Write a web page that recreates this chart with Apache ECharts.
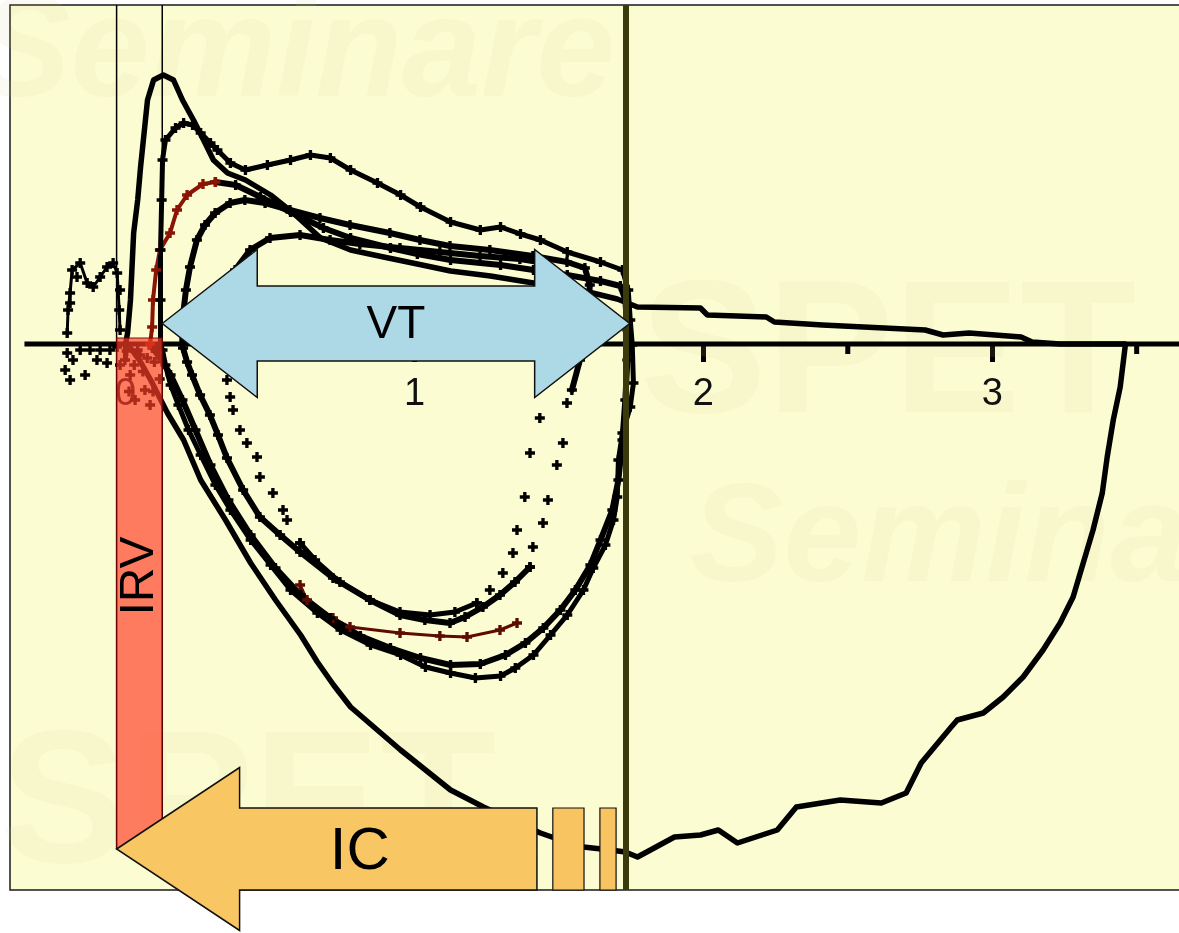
<!DOCTYPE html>
<html>
<head>
<meta charset="utf-8">
<title>Flow-volume loops</title>
<script src="https://cdn.jsdelivr.net/npm/echarts@6/dist/echarts.min.js"></script>
<style>
  html, body { margin: 0; padding: 0; background: #ffffff; }
  #chart { width: 1179px; height: 933px; }
</style>
</head>
<body>
<div id="chart"></div>
<script>
// ---- axes (volume in L, flow in L/s) ----
const VOLUME_RANGE = [-0.4, 3.65];
const FLOW_RANGE = [-10.92, 6.78];
const volumeTicks = [0, 1, 2, 3];
const volumeTickLabels = ['0', '1', '2', '3'];
const volumeMinorTicks = [0.5, 1.5, 2.5, 3.5];
const zeroLineSpan = [-0.35, 3.65];

// ---- lung volume markers ----
const EELV = 1.729;                       // end-expiratory lung volume
const irvSpan = [-0.031, 0.127];          // inspiratory reserve volume
const irvFlow = [0.12, -10.1];
const vtSpan = [0.127, 1.745];            // tidal volume
const vtFlow = 0.41;
const icTip = -0.031;                     // inspiratory capacity arrow
const icShaftEnd = 1.424;
const icStripes = [[1.479, 1.587], [1.642, 1.698]];
const icFlow = -10.1;
const irvLabelFlow = -4.64;
const icLabelVolume = 0.811;

// ---- maximal flow-volume loop ----
const maxLoop = [
  [0, 0], [0.007, 0.22], [0.017, 0.88], [0.028, 2.22], [0.042, 2.88], [0.052, 3.54],
  [0.076, 4.88], [0.097, 5.28], [0.131, 5.38], [0.166, 5.28], [0.197, 4.88], [0.235, 4.48],
  [0.27, 4.08], [0.304, 3.68], [0.353, 3.42], [0.415, 3.28], [0.502, 2.98], [0.588, 2.58],
  [0.675, 2.12], [0.779, 1.88], [0.893, 1.74], [1.01, 1.6], [1.125, 1.46], [1.263, 1.36],
  [1.412, 1.22], [1.574, 1.08], [1.702, 0.9], [1.772, 0.74], [1.99, 0.72], [2.014, 0.58],
  [2.218, 0.54], [2.246, 0.44], [2.412, 0.38], [2.768, 0.28], [2.83, 0.18], [2.92, 0.22],
  [3.1, 0.14], [3.138, 0.04], [3.235, 0], [3.46, 0],
  [3.46, -0.06], [3.443, -0.86], [3.419, -1.52], [3.398, -2.26], [3.381, -2.98], [3.349, -3.72],
  [3.315, -4.38], [3.28, -5.06], [3.235, -5.58], [3.176, -6.12], [3.107, -6.66], [3.038, -7.06],
  [2.969, -7.38], [2.879, -7.52], [2.858, -7.66], [2.754, -8.38], [2.702, -8.98], [2.616, -9.18],
  [2.474, -9.12], [2.322, -9.26], [2.256, -9.72], [2.118, -9.98], [2.052, -9.72], [1.99, -9.82],
  [1.9, -9.86], [1.817, -10.12], [1.772, -10.26], [1.73, -10.16], [1.678, -10.12], [1.585, -10.06],
  [1.505, -9.92], [1.436, -9.78], [1.239, -9.26], [1.125, -8.92], [0.952, -8.12], [0.779, -7.26],
  [0.72, -6.82], [0.664, -6.36], [0.606, -5.82], [0.519, -5.12], [0.433, -4.38], [0.346, -3.52],
  [0.26, -2.72], [0.201, -1.92], [0.145, -1.38], [0.087, -0.72], [0.052, -0.36], [0.017, -0.08]
];

// ---- second forced effort ----
const effort2 = [
  [0.121, 0], [0.121, 0.88], [0.121, 1.88], [0.125, 2.88], [0.128, 3.68], [0.138, 4.08],
  [0.173, 4.32], [0.201, 4.42], [0.232, 4.38], [0.26, 4.22], [0.294, 4.02], [0.318, 3.88],
  [0.363, 3.62], [0.415, 3.48], [0.491, 3.58], [0.571, 3.68], [0.64, 3.78], [0.709, 3.72],
  [0.779, 3.48], [0.872, 3.22], [0.952, 2.98], [1.021, 2.74], [1.125, 2.44], [1.228, 2.28],
  [1.298, 2.34], [1.367, 2.2], [1.436, 2.08], [1.529, 1.84], [1.644, 1.64], [1.72, 1.48],
  [1.74, 1.08], [1.747, 0.48], [1.754, -0.02], [1.758, -0.78], [1.747, -1.26], [1.72, -1.78],
  [1.706, -2.32], [1.702, -3.06], [1.689, -3.52], [1.661, -4.02], [1.619, -4.48], [1.585, -4.92],
  [1.529, -5.42], [1.471, -5.82], [1.412, -6.22], [1.349, -6.48], [1.298, -6.64], [1.211, -6.68],
  [1.125, -6.58], [1.038, -6.46], [0.952, -6.22], [0.848, -6.02], [0.744, -5.72], [0.664, -5.38],
  [0.571, -4.92], [0.502, -4.42], [0.433, -3.92], [0.363, -3.32], [0.311, -2.82], [0.26, -2.22],
  [0.218, -1.72], [0.183, -1.22], [0.156, -0.82], [0.138, -0.42], [0.128, -0.12]
];

// ---- tidal breath 1 (start of expiration in red) ----
const tidal1Rise = [
  [0.085, 0], [0.092, 0.34], [0.095, 0.88], [0.106, 1.48], [0.119, 1.88], [0.154, 2.22],
  [0.178, 2.68], [0.213, 2.98], [0.268, 3.2], [0.311, 3.24]
];
const tidal1 = [
  [0.311, 3.24], [0.381, 3.18], [0.467, 2.94], [0.571, 2.64], [0.685, 2.32], [0.779, 2.12],
  [0.917, 1.92], [1.01, 1.8], [1.125, 1.68], [1.298, 1.58], [1.412, 1.48], [1.529, 1.38],
  [1.644, 1.26], [1.713, 1.16], [1.73, 0.88], [1.737, 0.28], [1.737, -0.32], [1.73, -1.12],
  [1.72, -1.92], [1.706, -2.72], [1.685, -3.32], [1.644, -3.92], [1.609, -4.42], [1.557, -4.92],
  [1.505, -5.32], [1.446, -5.68], [1.384, -5.98], [1.315, -6.22], [1.228, -6.4], [1.125, -6.42],
  [1.021, -6.28], [0.917, -6.08], [0.813, -5.84], [0.709, -5.48], [0.606, -5.02], [0.519, -4.48],
  [0.433, -3.82], [0.356, -3.12], [0.294, -2.42], [0.242, -1.72], [0.197, -1.12], [0.156, -0.62],
  [0.121, -0.28], [0.093, -0.08]
];
const tidalRedLow = [
  [0.604, -4.82], [0.628, -5.12], [0.718, -5.48], [0.777, -5.66], [0.95, -5.78], [1.088, -5.84],
  [1.182, -5.86], [1.296, -5.72], [1.355, -5.58]
];

// ---- tidal breath 2 ----
const tidal2Exp = [
  [0.196, 0], [0.199, 0.58], [0.209, 1.08], [0.223, 1.54], [0.247, 2.08], [0.275, 2.38],
  [0.31, 2.62], [0.362, 2.82], [0.413, 2.88], [0.483, 2.82], [0.569, 2.68], [0.673, 2.52],
  [0.777, 2.38], [0.915, 2.22], [1.019, 2.08], [1.123, 1.96], [1.261, 1.88], [1.41, 1.76],
  [1.528, 1.64], [1.59, 1.52], [1.607, 1.18], [1.6, 0.48], [1.573, -0.32], [1.545, -0.92]
];
const tidal2InsSparse = [
  [1.528, -1.18], [1.514, -1.98], [1.493, -2.42], [1.462, -3.12], [1.445, -3.58], [1.41, -4.06],
  [1.4, -4.46]
];
const tidal2Ins = [
  [1.4, -4.46], [1.348, -4.76], [1.296, -5.02], [1.237, -5.26], [1.175, -5.46], [1.123, -5.58],
  [1.036, -5.52], [0.95, -5.42], [0.846, -5.12], [0.718, -4.68], [0.604, -4.16], [0.535, -3.82],
  [0.465, -3.46], [0.407, -2.92], [0.351, -2.28], [0.32, -1.82], [0.292, -1.42], [0.258, -1.02],
  [0.23, -0.62], [0.213, -0.36], [0.199, -0.08]
];

// ---- tidal breath 3 ----
const tidal3Exp = [
  [0.31, 0], [0.32, 0.48], [0.344, 0.98], [0.379, 1.48], [0.431, 1.88], [0.5, 2.12],
  [0.604, 2.18], [0.708, 2.08], [0.811, 2.0], [0.95, 1.92], [1.088, 1.84], [1.227, 1.76],
  [1.365, 1.7], [1.452, 1.62], [1.47, 1.18], [1.462, 0.28], [1.452, -0.72]
];
const tidal3InsRight = [
  [1.434, -1.48], [1.4, -2.18], [1.382, -3.06], [1.355, -3.72], [1.341, -4.18], [1.306, -4.58],
  [1.261, -4.92], [1.216, -5.18]
];
const tidal3InsLow = [
  [1.216, -5.18], [1.14, -5.36], [1.054, -5.42], [0.95, -5.36], [0.846, -5.12], [0.742, -4.76],
  [0.656, -4.32], [0.604, -3.98]
];
const tidal3InsLeft = [
  [0.604, -3.98], [0.559, -3.52], [0.545, -3.32], [0.51, -2.98], [0.465, -2.66], [0.455, -2.26],
  [0.42, -1.98], [0.396, -1.72], [0.372, -1.32], [0.362, -1.06], [0.351, -0.72]
];

// ---- baseline breathing before the manoeuvre ----
const baselineTrace = [
  [-0.202, 0.22], [-0.199, 0.68], [-0.192, 1.02], [-0.185, 1.48], [-0.157, 1.62], [-0.133, 1.22],
  [-0.112, 1.14], [-0.088, 1.34], [-0.064, 1.54], [-0.043, 1.62], [-0.029, 1.42], [-0.022, 0.68],
  [-0.019, 0.28]
];
const baselineNoise = [
  [-0.168, 1.34], [-0.192, 0.82], [-0.202, -0.18], [-0.182, -0.32], [-0.157, -0.12], [-0.123, -0.12],
  [-0.099, -0.32], [-0.088, -0.12], [-0.054, -0.12], [-0.064, -0.38], [-0.029, -0.06], [-0.209, -0.52],
  [-0.192, -0.72], [-0.14, -0.62], [-0.019, 1.08], [-0.002, -0.32], [0.05, -0.22], [0.016, -0.62],
  [0.067, -0.92], [0.033, -1.12], [0.085, -1.22], [-0.019, -0.42],
  [0.004, -0.14], [0.03, -0.42], [0.06, -0.55], [0.1, -0.36], [0.012, -0.95], [0.095, -0.95],
  [0.118, -0.7], [0.042, -0.12], [0.11, -0.14], [0.075, -0.28]
];

// ---- styling ----
const PLUS = 'path://M0,3H9V6H0ZM3,0H6V9H3Z';
const INK = '#000000';
const RED_INK = '#8a1405';
const RED_DARK = '#5e0c02';
const FONT = '"Liberation Sans", Arial, sans-serif';

function traceLine(name, data, color, width, withMarks) {
  return {
    name, type: 'line', data, smooth: false, silent: true,
    showSymbol: withMarks, showAllSymbol: true,
    symbol: withMarks ? PLUS : 'none', symbolSize: 10,
    itemStyle: { color, opacity: 1 }, lineStyle: { color, width, join: 'round', cap: 'round' },
    z: 3
  };
}
function traceMarks(name, data, color) {
  return {
    name, type: 'scatter', data, silent: true, symbol: PLUS, symbolSize: 10,
    itemStyle: { color, opacity: 1 }, z: 3
  };
}

const option = {
  animation: false,
  grid: {
    left: 10, top: 5, width: 1170, height: 885, show: true,
    containLabel: false, outerBoundsMode: 'none',
    backgroundColor: '#fcfcd3', borderColor: '#1a1a1a', borderWidth: 1.5
  },
  xAxis: {
    type: 'value', min: VOLUME_RANGE[0], max: VOLUME_RANGE[1],
    axisLine: { show: false, onZero: true },
    axisTick: { show: true, customValues: volumeTicks, length: 18, lineStyle: { color: INK, width: 5 } },
    axisLabel: { show: false },
    splitLine: { show: false }
  },
  yAxis: { type: 'value', min: FLOW_RANGE[0], max: FLOW_RANGE[1], show: false, splitLine: { show: false } },
  series: [
    {
      name: 'zero flow', type: 'line', silent: true, symbol: 'none',
      data: [[zeroLineSpan[0], 0], [zeroLineSpan[1], 0]],
      lineStyle: { color: INK, width: 5 }, z: 2,
      markLine: {
        silent: true, symbol: 'none', label: { show: false },
        lineStyle: { color: '#3a3a0c', width: 6, type: 'solid' },
        data: [{ xAxis: EELV }]
      }
    },
    traceLine('tidal red low', tidalRedLow, RED_DARK, 3, true),
    traceLine('tidal 3 exp', tidal3Exp, INK, 6, true),
    traceMarks('tidal 3 ins right', tidal3InsRight, INK),
    traceLine('tidal 3 ins low', tidal3InsLow, INK, 5, true),
    traceMarks('tidal 3 ins left', tidal3InsLeft, INK),
    traceLine('tidal 2 exp', tidal2Exp, INK, 6, true),
    traceMarks('tidal 2 ins sparse', tidal2InsSparse, INK),
    traceLine('tidal 2 ins', tidal2Ins, INK, 6, true),
    traceLine('tidal 1', tidal1, INK, 6, true),
    traceLine('tidal 1 rise', tidal1Rise, RED_INK, 4, true),
    traceLine('effort 2', effort2, INK, 5, true),
    traceLine('maximal loop', maxLoop, INK, 5.5, false),
    traceLine('baseline trace', baselineTrace, INK, 3, true),
    traceMarks('baseline', baselineNoise, INK)
  ]
};

const chart = echarts.init(document.getElementById('chart'), null, { renderer: 'canvas' });
chart.setOption(option);

const P = (v, f) => chart.convertToPixel({ gridIndex: 0 }, [v, f]);

// arrow and axis geometry (pixels)
const VT_HEAD_LEN = 95, VT_HEAD_HALF = 74, VT_SHAFT_HALF = 37.5;
const IC_HEAD_LEN = 123, IC_HEAD_HALF = 81.5, IC_SHAFT_HALF = 41;
const MINOR_TICK_LEN = 10;
const TICK_LABEL_GAP = 51;

const yTop = P(0, FLOW_RANGE[1])[1];
const yZero = P(0, 0)[1];
const xIrvL = P(irvSpan[0], 0)[0];
const xIrvR = P(irvSpan[1], 0)[0];
const yIrvTop = P(0, irvFlow[0])[1];
const yIrvBot = P(0, irvFlow[1])[1];

const minorTicks = volumeMinorTicks.map(v => {
  const x = P(v, 0)[0];
  return {
    type: 'line', z: 2, silent: true,
    shape: { x1: x, y1: yZero, x2: x, y2: yZero + MINOR_TICK_LEN },
    style: { stroke: INK, lineWidth: 5 }
  };
});
const tickLabels = volumeTicks.map((v, i) => ({
  type: 'text', z: 2, silent: true, x: P(v, 0)[0], y: yZero + TICK_LABEL_GAP,
  style: { text: volumeTickLabels[i], fontSize: 38, fontFamily: FONT, fill: '#111',
           align: 'center', verticalAlign: 'middle' }
}));

const [xVt1, yVt] = P(vtSpan[0], vtFlow);
const xVt2 = P(vtSpan[1], vtFlow)[0];
const vtPoints = [
  [xVt1, yVt], [xVt1 + VT_HEAD_LEN, yVt - VT_HEAD_HALF], [xVt1 + VT_HEAD_LEN, yVt - VT_SHAFT_HALF],
  [xVt2 - VT_HEAD_LEN, yVt - VT_SHAFT_HALF], [xVt2 - VT_HEAD_LEN, yVt - VT_HEAD_HALF], [xVt2, yVt],
  [xVt2 - VT_HEAD_LEN, yVt + VT_HEAD_HALF], [xVt2 - VT_HEAD_LEN, yVt + VT_SHAFT_HALF],
  [xVt1 + VT_HEAD_LEN, yVt + VT_SHAFT_HALF], [xVt1 + VT_HEAD_LEN, yVt + VT_HEAD_HALF]
];

const [xIc, yIc] = P(icTip, icFlow);
const xIcEnd = P(icShaftEnd, icFlow)[0];
const icPoints = [
  [xIc, yIc], [xIc + IC_HEAD_LEN, yIc - IC_HEAD_HALF], [xIc + IC_HEAD_LEN, yIc - IC_SHAFT_HALF],
  [xIcEnd, yIc - IC_SHAFT_HALF], [xIcEnd, yIc + IC_SHAFT_HALF],
  [xIc + IC_HEAD_LEN, yIc + IC_SHAFT_HALF], [xIc + IC_HEAD_LEN, yIc + IC_HEAD_HALF]
];
const icStripeRects = icStripes.map(([a, b]) => {
  const x1 = P(a, icFlow)[0], x2 = P(b, icFlow)[0];
  return {
    type: 'rect', z: 12, silent: true,
    shape: { x: x1, y: yIc - IC_SHAFT_HALF, width: x2 - x1, height: 2 * IC_SHAFT_HALF },
    style: { fill: '#f8c461', stroke: '#111', lineWidth: 1.2 }
  };
});

const watermarkColor = 'rgba(214, 214, 150, 0.11)';
const watermarks = [
  { text: 'Seminare', x: -24, y: 128, font: 'italic bold 142px ' + FONT },
  { text: 'SPET', x: 640, y: 455, font: 'bold 190px ' + FONT },
  { text: 'Semina', x: 690, y: 612, font: 'italic bold 140px ' + FONT },
  { text: 'SPET', x: 0, y: 905, font: 'bold 190px ' + FONT }
].map(w => ({
  type: 'text', z: 1, silent: true, x: w.x, y: w.y,
  style: { text: w.text, font: w.font, fill: watermarkColor, verticalAlign: 'bottom' }
}));

const irvMid = (xIrvL + xIrvR) / 2;
const yIrvLabel = P(0, irvLabelFlow)[1];
const xIcLabel = P(icLabelVolume, icFlow)[0];
const xVtLabel = (xVt1 + xVt2) / 2;

chart.setOption({
  graphic: {
    elements: watermarks.concat(minorTicks).concat(tickLabels).concat([
      { type: 'line', z: 10, silent: true, shape: { x1: xIrvL, y1: yTop, x2: xIrvL, y2: yIrvBot },
        style: { stroke: '#000', lineWidth: 1.5 } },
      { type: 'line', z: 10, silent: true, shape: { x1: xIrvR, y1: yTop, x2: xIrvR, y2: yIrvBot },
        style: { stroke: '#000', lineWidth: 1.5 } },
      { type: 'rect', z: 11, silent: true,
        shape: { x: xIrvL, y: yIrvTop, width: xIrvR - xIrvL, height: yIrvBot - yIrvTop },
        style: { fill: 'rgba(255, 62, 40, 0.68)', stroke: 'rgba(110, 0, 0, 0.9)', lineWidth: 1.2 } },
      { type: 'text', z: 13, silent: true, x: irvMid, y: yIrvLabel, rotation: Math.PI / 2,
        style: { text: 'IRV', fontSize: 48, fontFamily: FONT, fill: '#000', align: 'center', verticalAlign: 'middle' } },
      { type: 'polygon', z: 12, silent: true, shape: { points: vtPoints },
        style: { fill: '#add8e6', stroke: '#111', lineWidth: 1.5 } },
      { type: 'text', z: 13, silent: true, x: xVtLabel, y: yVt + 2,
        style: { text: 'VT', fontSize: 46, fontFamily: FONT, fill: '#000', align: 'center', verticalAlign: 'middle' } },
      { type: 'polygon', z: 12, silent: true, shape: { points: icPoints },
        style: { fill: '#f8c662', stroke: '#111', lineWidth: 1.5 } }
    ]).concat(icStripeRects).concat([
      { type: 'text', z: 13, silent: true, x: xIcLabel, y: yIc + 3,
        style: { text: 'IC', fontSize: 60, fontFamily: FONT, fill: '#000', align: 'center', verticalAlign: 'middle' } }
    ])
  }
});
</script>
</body>
</html>
